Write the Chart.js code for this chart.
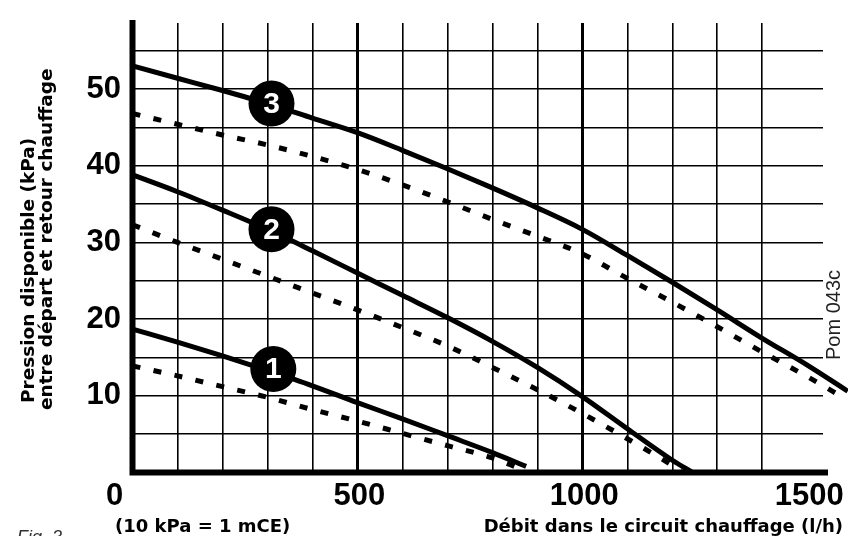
<!DOCTYPE html>
<html>
<head>
<meta charset="utf-8">
<title>Pression disponible</title>
<script src="https://cdn.jsdelivr.net/npm/chart.js@4.4.0/dist/chart.umd.min.js"></script>
<style>
body { margin: 0; background: #fff; }
canvas { display: block; }
</style>
</head>
<body>
<canvas id="courbes" width="848" height="536"></canvas>
<script>
// Débit (l/h) / pression disponible (kPa), lus sur le graphique
// courbe 3 (trait plein et pointillé)
var debit3 = [0, 100, 200, 300, 400, 500, 600, 700, 800, 900, 1000, 1100, 1200, 1300, 1400, 1500, 1590];
var pression3 = [53.0, 51.4, 49.8, 48.1, 46.2, 44.3, 42.0, 39.6, 37.1, 34.5, 31.7, 28.3, 24.8, 21.2, 17.5, 14.0, 10.6];
var debit3p = [0, 100, 200, 300, 400, 500, 600, 700, 800, 900, 1000, 1100, 1200, 1300, 1400, 1500, 1585];
var pression3p = [46.8, 45.4, 44.0, 42.7, 41.2, 39.5, 37.5, 35.3, 33.0, 30.8, 28.5, 25.3, 22.2, 19.0, 15.7, 12.5, 9.6];

// courbe 2
var debit2 = [0, 100, 200, 300, 400, 500, 600, 700, 800, 900, 1000, 1100, 1200, 1245];
var pression2 = [38.8, 36.6, 34.2, 31.7, 28.9, 26.0, 23.1, 20.2, 17.1, 13.7, 9.9, 5.7, 1.6, 0];
var debit2p = [0, 100, 200, 300, 400, 500, 600, 700, 800, 900, 1000, 1100, 1200, 1222];
var pression2p = [32.3, 30.0, 27.8, 25.6, 23.4, 21.2, 18.9, 16.5, 13.7, 10.8, 7.7, 4.4, 0.9, 0];

// courbe 1
var debit1 = [0, 100, 200, 300, 400, 500, 600, 700, 800, 875];
var pression1 = [18.7, 17.0, 15.2, 13.3, 11.3, 9.1, 7.0, 4.8, 2.6, 0.8];
var debit1p = [0, 100, 200, 300, 400, 500, 600, 700, 800, 862];
var pression1p = [13.9, 12.6, 11.2, 9.8, 8.2, 6.7, 5.1, 3.5, 1.9, 0.5];

// pastilles numérotées
var pastilleDebit = [309, 309, 313];
var pastillePression = [48.1, 31.7, 13.5];
var pastilleTexte = ['3', '2', '1'];

var ticksX = [0, 500, 1000, 1500];
var ticksY = [10, 20, 30, 40, 50];

function points(xs, ys) {
    var res = [];
    for (var i = 0; i < xs.length; i++) {
        res.push({x: xs[i], y: ys[i]});
    }
    return res;
}

function courbe(xs, ys, pointille) {
    return {
        data: points(xs, ys),
        showLine: true,
        borderColor: '#000',
        borderWidth: 5,
        borderDash: pointille ? [8, 13.5] : [],
        borderCapStyle: 'butt',
        borderJoinStyle: 'round',
        cubicInterpolationMode: 'monotone',
        pointRadius: 0,
        pointHoverRadius: 0,
        clip: false
    };
}

var POLICE = '"DejaVu Sans", sans-serif';
var CHIFFRES = '"Liberation Sans", Arial, sans-serif';

var textes = {
    id: 'textes',
    beforeDatasetsDraw: function(chart) {
        // axes épais
        var c = chart.ctx;
        var sx = chart.scales.x, sy = chart.scales.y;
        var x0 = sx.getPixelForValue(0);
        var y0 = sy.getPixelForValue(0);
        c.save();
        c.strokeStyle = '#000';
        c.lineWidth = 6;
        c.lineCap = 'butt';
        c.beginPath();
        c.moveTo(x0, chart.chartArea.top - 3);
        c.lineTo(x0, y0 + 3);
        c.moveTo(x0 - 3, y0);
        c.lineTo(chart.chartArea.right + 5, y0);
        c.stroke();
        c.restore();
    },
    afterDatasetsDraw: function(chart) {
        var c = chart.ctx;
        var sx = chart.scales.x, sy = chart.scales.y;
        c.save();
        c.fillStyle = '#000';

        // graduations
        c.font = 'bold 31px ' + CHIFFRES;
        c.textBaseline = 'middle';
        c.textAlign = 'right';
        ticksY.forEach(function(v) {
            c.fillText(String(v), 121, sy.getPixelForValue(v));
        });
        c.textAlign = 'center';
        ticksX.forEach(function(v) {
            var px = sx.getPixelForValue(v);
            if (v === 0) px -= 20;
            c.fillText(String(v), px + 2, 496);
        });

        // pastilles
        var meta = chart.getDatasetMeta(0);
        c.fillStyle = '#fff';
        c.font = 'bold 30px ' + CHIFFRES;
        meta.data.forEach(function(el, i) {
            c.fillText(pastilleTexte[i], el.x, el.y + 1);
        });

        // titres
        c.fillStyle = '#000';
        c.textBaseline = 'alphabetic';
        c.font = 'bold 18px ' + POLICE;
        c.textAlign = 'left';
        c.fillText('(10 kPa = 1 mCE)', 115, 532);
        c.textAlign = 'right';
        c.fillText('Débit dans le circuit chauffage (l/h)', 843, 532);

        c.save();
        c.translate(34, 403);
        c.rotate(-Math.PI / 2);
        c.font = 'bold 18.5px ' + POLICE;
        c.textAlign = 'left';
        c.fillText('Pression disponible (kPa)', 0, 0);
        c.restore();

        c.save();
        c.translate(52, 410);
        c.rotate(-Math.PI / 2);
        c.font = 'bold 18.5px ' + POLICE;
        c.textAlign = 'left';
        c.fillText('entre départ et retour chauffage', 0, 0);
        c.restore();

        c.save();
        c.translate(840, 315);
        c.rotate(-Math.PI / 2);
        c.fillStyle = '#222';
        c.font = '20px "Liberation Sans Narrow", "Liberation Sans", sans-serif';
        c.textAlign = 'center';
        c.fillText('Pom 043c', 0, 0);
        c.restore();

        c.fillStyle = '#333';
        c.font = 'italic 18px ' + CHIFFRES;
        c.textAlign = 'left';
        c.fillText('Fig. 3', 17, 543);
        c.restore();
    }
};

var graph = new Chart(document.getElementById('courbes'), {
    type: 'scatter',
    data: {
        datasets: [
            {
                data: points(pastilleDebit, pastillePression),
                backgroundColor: '#000',
                borderWidth: 0,
                pointRadius: 23,
                pointHoverRadius: 23,
                showLine: false
            },
            courbe(debit3, pression3, false),
            courbe(debit3p, pression3p, true),
            courbe(debit2, pression2, false),
            courbe(debit2p, pression2p, true),
            courbe(debit1, pression1, false),
            courbe(debit1p, pression1p, true)
        ]
    },
    options: {
        responsive: false,
        animation: false,
        events: [],
        layout: { padding: { left: 132.5, right: 25, top: 18, bottom: 63.5 } },
        plugins: { legend: { display: false }, tooltip: { enabled: false } },
        scales: {
            x: {
                type: 'linear',
                min: 0,
                max: 1535,
                afterFit: function(s) { s.height = 0; },
                ticks: { display: false, stepSize: 100 },
                border: { display: false },
                grid: {
                    drawTicks: false,
                    color: function(ctx) {
                        var v = ctx.tick ? ctx.tick.value : 0;
                        return (v > 0 && v % 100 === 0) ? '#000' : 'rgba(0,0,0,0)';
                    },
                    lineWidth: function(ctx) {
                        var v = ctx.tick ? ctx.tick.value : 0;
                        return v % 500 === 0 ? 3 : 1.6;
                    }
                }
            },
            y: {
                type: 'linear',
                min: 0,
                max: 58.6,
                afterFit: function(s) { s.width = 0; },
                ticks: { display: false, stepSize: 5 },
                border: { display: false },
                grid: {
                    drawTicks: false,
                    color: function(ctx) {
                        var v = ctx.tick ? ctx.tick.value : 0;
                        return (v > 0 && v % 5 === 0) ? '#000' : 'rgba(0,0,0,0)';
                    },
                    lineWidth: 1.6
                }
            }
        }
    },
    plugins: [textes]
});
</script>
</body>
</html>
